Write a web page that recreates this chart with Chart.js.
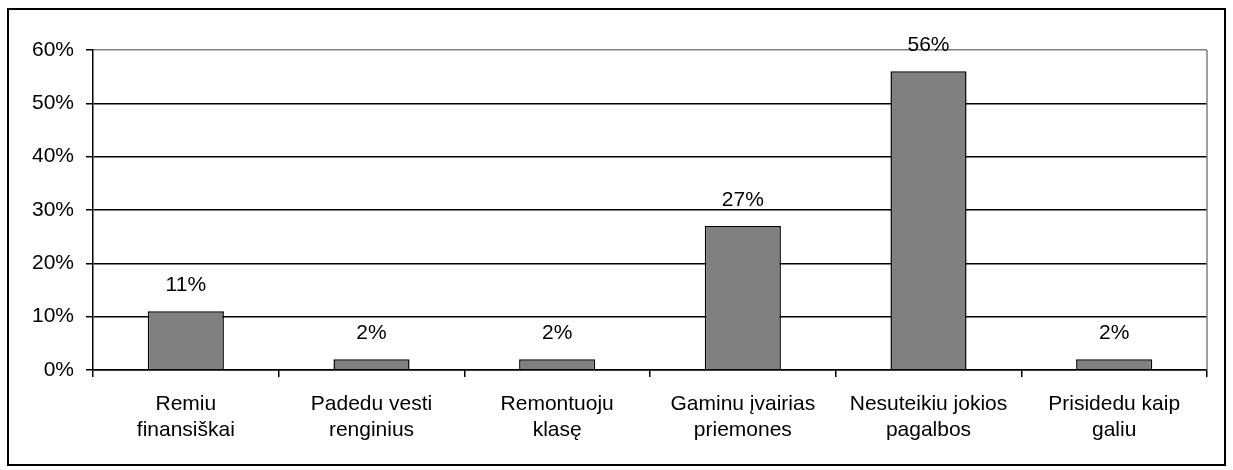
<!DOCTYPE html>
<html>
<head>
<meta charset="utf-8">
<script src="https://cdn.jsdelivr.net/npm/chart.js@4"></script>
<style>
  html, body { margin: 0; padding: 0; background: #fff; }
  #wrap { width: 1233px; height: 470px; position: relative; }
</style>
</head>
<body>
<div id="wrap"><canvas id="barChart"></canvas></div>
<script>
// Datos de la gráfica
const categorias = [
    ['Remiu', 'finansiškai'],
    ['Padedu vesti', 'renginius'],
    ['Remontuoju', 'klasę'],
    ['Gaminu įvairias', 'priemones'],
    ['Nesuteikiu jokios', 'pagalbos'],
    ['Prisidedu kaip', 'galiu']
];
const valores = [11, 2, 2, 27, 56, 2];
const ticksY = [0, 10, 20, 30, 40, 50, 60];

const fuente = { family: 'Arial, "Liberation Sans", sans-serif', size: 21, lineHeight: 1.24 };

// Marco exterior, borde gris del área y etiquetas sobre las barras
const decoracion = {
    id: 'decoracion',
    beforeDraw(chart) {
        const ctx = chart.ctx;
        ctx.save();
        ctx.fillStyle = '#fff';
        ctx.fillRect(0, 0, chart.width, chart.height);
        ctx.restore();
    },
    afterDraw(chart) {
        const ctx = chart.ctx;
        const area = chart.chartArea;
        ctx.save();
        // borde derecho gris del área de trazado
        ctx.strokeStyle = '#808080';
        ctx.lineWidth = 1.5;
        ctx.beginPath();
        ctx.moveTo(area.right, area.top);
        ctx.lineTo(area.right, area.bottom);
        ctx.stroke();
        // marco exterior
        ctx.strokeStyle = '#000';
        ctx.lineWidth = 2;
        ctx.strokeRect(8, 9, 1217, 456);
        // etiquetas de valores
        const meta = chart.getDatasetMeta(0);
        ctx.fillStyle = '#000';
        ctx.font = `${fuente.size}px ${fuente.family}`;
        ctx.textAlign = 'center';
        ctx.textBaseline = 'middle';
        meta.data.forEach((bar, i) => {
            ctx.fillText(valores[i] + '%', bar.x, bar.y - 26);
        });
        ctx.restore();
    }
};

new Chart(document.getElementById('barChart'), {
    type: 'bar',
    data: {
        labels: categorias,
        datasets: [{
            data: valores,
            backgroundColor: '#808080',
            borderColor: '#000',
            borderWidth: 1.5,
            barPercentage: 0.41,
            categoryPercentage: 1
        }]
    },
    options: {
        responsive: true,
        maintainAspectRatio: false,
        animation: false,
        layout: { padding: { left: 0, top: 50, right: 26, bottom: 0 } },
        plugins: {
            legend: { display: false },
            tooltip: { enabled: false }
        },
        scales: {
            x: {
                offset: true,
                grid: {
                    offset: true,
                    drawOnChartArea: false,
                    drawTicks: true,
                    tickLength: 7,
                    color: '#000',
                    lineWidth: 1.5
                },
                border: { color: '#000', width: 1.5 },
                ticks: {
                    color: '#000',
                    font: fuente,
                    maxRotation: 0,
                    autoSkip: false,
                    padding: 14
                },
                afterFit(scale) { scale.height = 100; }
            },
            y: {
                min: 0,
                max: 60,
                afterBuildTicks(scale) {
                    scale.ticks = ticksY.map(v => ({ value: v }));
                },
                grid: {
                    color: ctx => (ctx.tick && ctx.tick.value === 60 ? '#808080' : '#000'),
                    lineWidth: 1.5,
                    tickLength: 7,
                    tickColor: '#000'
                },
                border: { color: '#000', width: 1.5 },
                ticks: {
                    color: '#000',
                    font: fuente,
                    padding: 12,
                    callback: v => v + '%'
                },
                afterFit(scale) { scale.width = 93; }
            }
        }
    },
    plugins: [decoracion]
});
</script>
</body>
</html>
